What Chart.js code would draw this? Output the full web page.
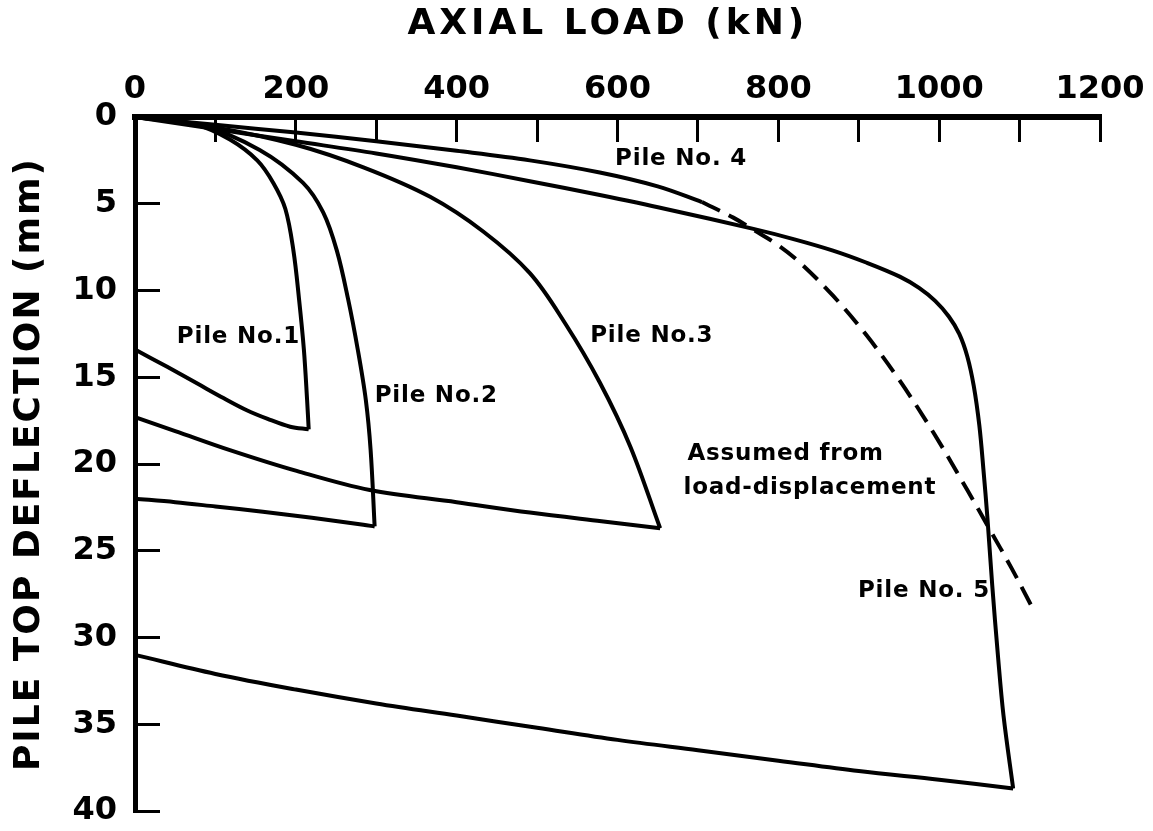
<!DOCTYPE html>
<html>
<head>
<meta charset="utf-8">
<script src="https://cdn.jsdelivr.net/npm/chart.js@4.4.1/dist/chart.umd.min.js"></script>
<style>
  html, body { margin: 0; padding: 0; background: #fff; }
</style>
</head>
<body>
<canvas id="chartCanvas" width="1153" height="831"></canvas>
<script>
// axial load (kN) / pile top deflection (mm)
const pile1LoadKN = [0, 77, 118, 152, 172, 187, 197, 204, 210, 214, 216];
const pile1LoadMM = [0, 0.46, 1.3, 2.5, 3.8, 5.3, 7.7, 10.5, 13.4, 16.3, 18.0];
const pile1UnloadKN = [216, 193, 165, 139, 110, 77, 40, 0];
const pile1UnloadMM = [18.0, 17.85, 17.4, 16.9, 16.2, 15.35, 14.4, 13.4];

const pile2LoadKN = [0, 81, 155, 209, 234, 251, 265, 277, 287, 293, 298];
const pile2LoadMM = [0, 0.46, 1.9, 3.8, 5.5, 7.7, 10.5, 13.4, 16.3, 19.2, 23.6];
const pile2UnloadKN = [298, 284, 220, 159, 100, 50, 0];
const pile2UnloadMM = [23.6, 23.5, 23.1, 22.75, 22.45, 22.2, 22.0];

const pile3LoadKN = [0, 100, 200, 284, 367, 433, 491, 535, 578, 616, 653];
const pile3LoadMM = [0, 0.6, 1.6, 2.9, 4.6, 6.6, 9.0, 11.9, 15.3, 19.0, 23.7];
const pile3UnloadKN = [653, 580, 491, 400, 292, 201, 118, 50, 0];
const pile3UnloadMM = [23.7, 23.3, 22.8, 22.2, 21.5, 20.4, 19.2, 18.1, 17.3];

const pile4LoadKN = [0, 100, 200, 300, 400, 491, 578, 650, 705];
const pile4LoadMM = [0, 0.45, 0.9, 1.4, 1.95, 2.5, 3.2, 4.0, 4.9];
// dashed part: "Assumed from load-displacement"
const pile4AssumedKN = [705, 744, 769, 800, 827, 868, 910, 951, 993, 1035, 1062, 1090, 1115];
const pile4AssumedMM = [4.9, 5.8, 6.5, 7.4, 8.4, 10.3, 12.6, 15.2, 18.2, 21.5, 23.7, 26.0, 28.2];

const pile5LoadKN = [0, 100, 200, 300, 400, 491, 578, 660, 769, 820, 868, 910, 951, 975, 995, 1012, 1025, 1035, 1043, 1050, 1055, 1060, 1066, 1073, 1080, 1092];
const pile5LoadMM = [0, 0.7, 1.4, 2.1, 2.9, 3.7, 4.5, 5.3, 6.45, 7.05, 7.7, 8.4, 9.2, 9.85, 10.6, 11.5, 12.5, 13.8, 15.5, 17.8, 20.3, 23.1, 27.0, 31.0, 34.5, 38.7];
const pile5UnloadKN = [1092, 1000, 900, 800, 700, 600, 500, 400, 300, 200, 100, 0];
const pile5UnloadMM = [38.7, 38.2, 37.7, 37.1, 36.5, 35.9, 35.2, 34.5, 33.8, 33.0, 32.1, 31.0];

const loadTicks = [0, 100, 200, 300, 400, 500, 600, 700, 800, 900, 1000, 1100, 1200];
const deflectionTicks = [0, 5, 10, 15, 20, 25, 30, 35, 40];

const toPoints = (xs, ys) => xs.map((v, i) => ({ x: v, y: ys[i] }));

const curve = (xs, ys, dashed = false) => ({
  data: toPoints(xs, ys),
  showLine: true,
  borderColor: "#000",
  borderWidth: 4,
  borderDash: dashed ? [20, 10] : [],
  pointRadius: 0,
  tension: 0.35,
  fill: false,
  clip: 10,
});

// keep tick-label padding from shrinking the plot area
const noScalePadding = (s) => {
  s.paddingLeft = 0;
  s.paddingRight = 0;
  s.paddingTop = 0;
  s.paddingBottom = 0;
};

// labels written on the plot
const textPlugin = {
  id: "texts",
  afterDraw(chart) {
    const { ctx } = chart;
    const x = chart.scales.x;
    const y = chart.scales.y;
    ctx.save();
    ctx.fillStyle = "#000";
    ctx.textBaseline = "middle";

    ctx.font = 'bold 36px "DejaVu Sans"';
    ctx.letterSpacing = "4px";
    ctx.textAlign = "center";
    ctx.fillText("AXIAL LOAD (kN)", x.getPixelForValue(588), 25);

    ctx.letterSpacing = "2px";
    ctx.save();
    ctx.translate(30, y.getPixelForValue(20));
    ctx.rotate(-Math.PI / 2);
    ctx.fillText("PILE TOP DEFLECTION (mm)", 0, 0);
    ctx.restore();

    ctx.font = 'bold 23px "DejaVu Sans"';
    ctx.letterSpacing = "0.8px";
    ctx.textAlign = "left";
    const notes = [
      ["Pile No.1", 52, 12.7],
      ["Pile No.2", 298, 16.1],
      ["Pile No.3", 566, 12.6],
      ["Pile No. 4", 597, 2.4],
      ["Pile No. 5", 899, 27.3],
      ["Assumed from", 687, 19.4],
      ["load-displacement", 682, 21.4],
    ];
    notes.forEach(([t, kn, mm]) => {
      ctx.fillText(t, x.getPixelForValue(kn), y.getPixelForValue(mm));
    });
    ctx.restore();
  },
};

new Chart(document.getElementById("chartCanvas").getContext("2d"), {
  type: "scatter",
  data: {
    datasets: [
      curve(pile1LoadKN, pile1LoadMM),
      curve(pile1UnloadKN, pile1UnloadMM),
      curve(pile2LoadKN, pile2LoadMM),
      curve(pile2UnloadKN, pile2UnloadMM),
      curve(pile3LoadKN, pile3LoadMM),
      curve(pile3UnloadKN, pile3UnloadMM),
      curve(pile4LoadKN, pile4LoadMM),
      curve(pile4AssumedKN, pile4AssumedMM, true),
      curve(pile5LoadKN, pile5LoadMM),
      curve(pile5UnloadKN, pile5UnloadMM),
    ],
  },
  options: {
    responsive: false,
    animation: false,
    layout: { padding: { left: 0, top: 0, right: 53, bottom: 20 } },
    plugins: { legend: { display: false }, tooltip: { enabled: false } },
    scales: {
      x: {
        type: "linear",
        position: "top",
        min: 0,
        max: 1200,
        afterBuildTicks: (s) => { s.ticks = loadTicks.map((v) => ({ value: v })); },
        afterFit: (s) => { s.height = 117; noScalePadding(s); },
        ticks: {
          autoSkip: false,
          maxRotation: 0,
          padding: 33,
          color: "#000",
          font: { family: "DejaVu Sans", size: 32, weight: "bold" },
          callback: (v) => (v % 200 === 0 ? String(v) : ""),
        },
        grid: { drawOnChartArea: false, drawTicks: true, tickLength: -25, lineWidth: 3, color: "#000" },
        border: { display: true, width: 6, color: "#000" },
      },
      y: {
        type: "linear",
        position: "left",
        reverse: true,
        min: 0,
        max: 40,
        afterBuildTicks: (s) => { s.ticks = deflectionTicks.map((v) => ({ value: v })); },
        afterFit: (s) => { s.width = 135; noScalePadding(s); },
        ticks: {
          padding: 43,
          color: "#000",
          font: { family: "DejaVu Sans", size: 32, weight: "bold" },
        },
        grid: { drawOnChartArea: false, drawTicks: true, tickLength: -25, lineWidth: 3, color: "#000" },
        border: { display: true, width: 5, color: "#000" },
      },
    },
  },
  plugins: [textPlugin],
});
</script>
</body>
</html>
